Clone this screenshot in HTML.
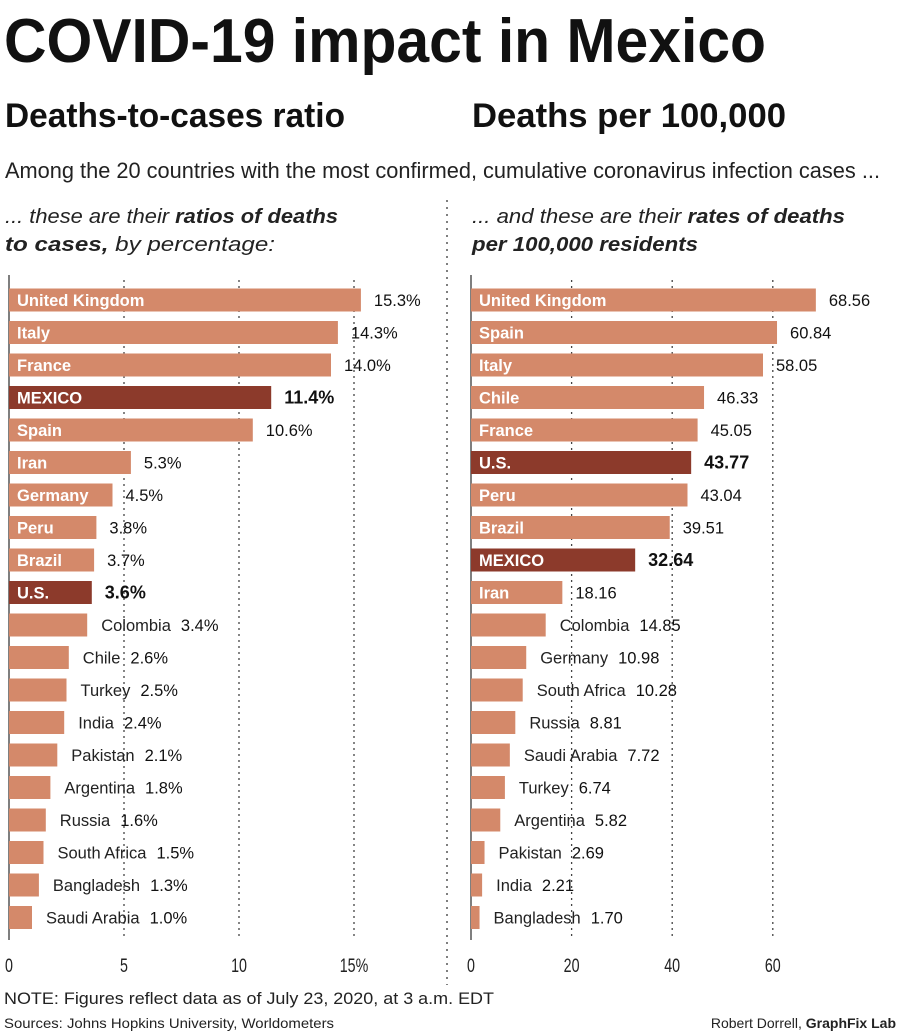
<!DOCTYPE html>
<html><head><meta charset="utf-8"><style>
body{margin:0;background:#fff}
svg{display:block;font-family:"Liberation Sans",Arial,sans-serif}
</style></head><body>
<svg id="c" width="900" height="1033" viewBox="0 0 900 1033">
<text x="4" y="62" font-size="62" font-weight="bold" textLength="762" lengthAdjust="spacingAndGlyphs" fill="#111">COVID-19 impact in Mexico</text>
<text x="5" y="127" font-size="34" font-weight="bold" textLength="340" lengthAdjust="spacingAndGlyphs" fill="#111">Deaths-to-cases ratio</text>
<text x="472" y="127" font-size="34" font-weight="bold" textLength="314" lengthAdjust="spacingAndGlyphs" fill="#111">Deaths per 100,000</text>
<text x="5" y="178" font-size="22" textLength="875" lengthAdjust="spacingAndGlyphs" fill="#222">Among the 20 countries with the most confirmed, cumulative coronavirus infection cases ...</text>
<text x="5" y="223" font-size="20" font-style="italic" fill="#222" textLength="333" lengthAdjust="spacingAndGlyphs">... these are their <tspan font-weight="bold">ratios of deaths</tspan></text>
<text x="5" y="251" font-size="20" font-style="italic" fill="#222" textLength="270" lengthAdjust="spacingAndGlyphs"><tspan font-weight="bold">to cases,</tspan> by percentage:</text>
<text x="472" y="223" font-size="20" font-style="italic" fill="#222" textLength="373" lengthAdjust="spacingAndGlyphs">... and these are their <tspan font-weight="bold">rates of deaths</tspan></text>
<text x="472" y="251" font-size="20" font-style="italic" font-weight="bold" fill="#222" textLength="226" lengthAdjust="spacingAndGlyphs">per 100,000 residents</text>
<line x1="447" y1="200" x2="447" y2="985" stroke="#555" stroke-width="1.5" stroke-dasharray="2,5"/>
<g id="left"></g>
<g id="right"></g>
<text x="4" y="1004" font-size="17" fill="#222" textLength="490" lengthAdjust="spacingAndGlyphs">NOTE: Figures reflect data as of July 23, 2020, at 3 a.m. EDT</text>
<text x="4" y="1028" font-size="14" fill="#222" textLength="330" lengthAdjust="spacingAndGlyphs">Sources: Johns Hopkins University, Worldometers</text>
<text x="896" y="1028" font-size="14" fill="#222" text-anchor="end">Robert Dorrell, <tspan font-weight="bold">GraphFix Lab</tspan></text>
</svg>
<script>
const leftCountries=["United Kingdom","Italy","France","MEXICO","Spain","Iran","Germany","Peru","Brazil","U.S.","Colombia","Chile","Turkey","India","Pakistan","Argentina","Russia","South Africa","Bangladesh","Saudi Arabia"];
const leftValues=[15.3,14.3,14.0,11.4,10.6,5.3,4.5,3.8,3.7,3.6,3.4,2.6,2.5,2.4,2.1,1.8,1.6,1.5,1.3,1.0];
const leftTicks=[0,5,10,15];
const leftTickLabels=["0","5","10","15%"];
const rightCountries=["United Kingdom","Spain","Italy","Chile","France","U.S.","Peru","Brazil","MEXICO","Iran","Colombia","Germany","South Africa","Russia","Saudi Arabia","Turkey","Argentina","Pakistan","India","Bangladesh"];
const rightValues=[68.56,60.84,58.05,46.33,45.05,43.77,43.04,39.51,32.64,18.16,14.85,10.98,10.28,8.81,7.72,6.74,5.82,2.69,2.21,1.70];
const rightTicks=[0,20,40,60];
const rightTickLabels=["0","20","40","60"];
const highlightLeft=["MEXICO","U.S."];
const highlightRight=["U.S.","MEXICO"];
const NS="http://www.w3.org/2000/svg";
function mk(tag,attrs,parent){const e=document.createElementNS(NS,tag);for(const k in attrs)e.setAttribute(k,attrs[k]);parent.appendChild(e);return e;}
function draw(g,cats,vals,ticks,tlabels,x0,scale,fmt,hl,side){
  const xs=v=>x0+v*scale;
  const ys=i=>300+32.5*i;
  ticks.forEach((t,i)=>{
    if(t>0){const l=mk('line',{x1:xs(t),y1:280,x2:xs(t),y2:940,stroke:'#444','stroke-width':1.3,'stroke-dasharray':'2,4'},g);
    
    }
    const tx=mk('text',{x:xs(t),y:972,'font-size':19,'text-anchor':'middle',fill:'#222',transform:`translate(${xs(t)},0) scale(0.75,1) translate(${-xs(t)},0)`},g);
    tx.textContent=tlabels[i];
    
    
  });
  const ax=mk('line',{x1:x0,y1:275,x2:x0,y2:940,stroke:'#555','stroke-width':1.5},g);
  
  
  cats.forEach((c,i)=>{
    const h=hl.includes(c);const y=ys(i);const w=vals[i]*scale;
    const r=mk('rect',{x:x0,y:y-11.5,width:w,height:23,fill:h?'#8c3a2b':'#d4896a'},g);
    
    
    const lab=mk('text',{x:x0+8,y:y+6,'font-size':16.5,'font-weight':'bold',fill:'#fff'},g);
    lab.textContent=c;
    
    
    let vx=x0+w+13;
    if(w<80){
      lab.setAttribute('font-weight','normal');lab.setAttribute('fill','#222');
      lab.setAttribute('x',x0+w+14);
      vx=x0+w+14+lab.getComputedTextLength()+10;
    }
    const vt=mk('text',{x:vx,y:y+6,'font-size':h?18:16.5,'font-weight':h?'bold':'normal',fill:'#111'},g);
    vt.textContent=fmt(vals[i]);
    
    
  });
}
draw(document.getElementById('left'),leftCountries,leftValues,leftTicks,leftTickLabels,9,23,v=>v.toFixed(1)+'%',highlightLeft,'left');
draw(document.getElementById('right'),rightCountries,rightValues,rightTicks,rightTickLabels,471,5.03,v=>v.toFixed(2),highlightRight,'right');
</script>
</body></html>
